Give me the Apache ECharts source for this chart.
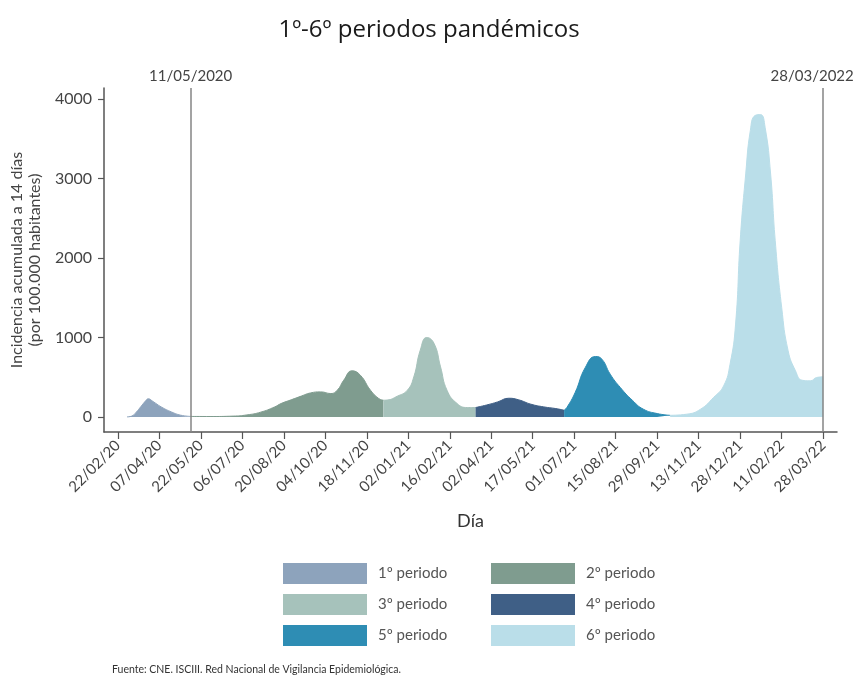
<!DOCTYPE html>
<html>
<head>
<meta charset="utf-8">
<script src="https://cdn.jsdelivr.net/npm/echarts@6/dist/echarts.min.js"></script>
<style>
  html, body { margin: 0; padding: 0; background: #fff; }
  #chart { width: 858px; height: 675px; }
</style>
</head>
<body>
<div id="chart"></div>
<script>
// days counted from 22/02/2020
var tickDays = [0, 45, 90, 135, 180, 225, 270, 315, 360, 405, 450, 495, 540, 585, 630, 675, 720, 765];
var tickLabels = ['22/02/20', '07/04/20', '22/05/20', '06/07/20', '20/08/20', '04/10/20', '18/11/20', '02/01/21', '16/02/21',
  '02/04/21', '17/05/21', '01/07/21', '15/08/21', '29/09/21', '13/11/21', '28/12/21', '11/02/22', '28/03/22'];
var yTicks = [0, 1000, 2000, 3000, 4000];

var markDays = [79, 765];
var markLabels = ['11/05/2020', '28/03/2022'];

var periodNames = ['1º periodo', '2º periodo', '3º periodo', '4º periodo', '5º periodo', '6º periodo'];
var periodColors = ['#8da3bc', '#7f9c8f', '#a6c2bb', '#3f5f86', '#2e8db4', '#badee9'];

var p1Days = [10, 15, 20, 25, 30, 33, 38, 47, 58, 68, 79];
var p1Vals = [0, 10, 60, 130, 200, 228, 195, 126, 63, 22, 6];

var p2Days = [79, 100, 125, 140, 155, 170, 177, 188, 199, 209, 220, 231, 238, 245, 254, 263, 274, 283, 288];
var p2Vals = [6, 5, 10, 25, 60, 125, 168, 215, 262, 302, 315, 294, 336, 462, 580, 525, 336, 231, 210];

var p3Days = [288, 292, 303, 314, 321, 328, 335, 343, 350, 357, 368, 379, 388];
var p3Vals = [210, 212, 260, 336, 504, 840, 1000, 924, 630, 336, 168, 118, 118];

var p4Days = [388, 400, 412, 424, 435, 448, 462, 475, 484];
var p4Vals = [118, 150, 189, 235, 214, 160, 126, 105, 84];

var p5Days = [484, 487, 496, 507, 518, 525, 534, 545, 558, 570, 585, 599];
var p5Vals = [84, 118, 307, 622, 760, 727, 538, 370, 210, 97, 42, 20];

var p6Days = [599, 617, 632, 646, 657, 664, 670, 675, 681, 686, 691, 697, 702, 708, 713, 720, 727, 735, 742, 751, 758, 765];
var p6Vals = [20, 34, 97, 244, 390, 664, 1168, 2218, 3058, 3604, 3793, 3805, 3646, 3058, 2218, 1378, 832, 580, 462, 454, 496, 504];

var periodDays = [p1Days, p2Days, p3Days, p4Days, p5Days, p6Days];
var periodVals = [p1Vals, p2Vals, p3Vals, p4Vals, p5Vals, p6Vals];

var font = 'Lato, "Open Sans", sans-serif';
var chart = echarts.init(document.getElementById('chart'));

var series = periodNames.map(function (name, i) {
  var s = {
    name: name,
    type: 'line',
    smooth: 0.5,
    showSymbol: false,
    silent: true,
    data: periodDays[i].map(function (d, k) { return [d, periodVals[i][k]]; }),
    itemStyle: { color: periodColors[i] },
    lineStyle: { width: 1, color: periodColors[i] },
    areaStyle: { color: periodColors[i], opacity: 1, origin: 0 },
    z: 2
  };
  if (i === 0) {
    s.markLine = {
      silent: true,
      symbol: ['none', 'none'],
      lineStyle: { color: '#858585', width: 1.5, type: 'solid' },
      label: {
        position: 'end',
        distance: 4,
        color: '#444',
        fontSize: 15,
        fontFamily: font
      },
      data: markDays.map(function (d, k) {
        var item = { xAxis: d, label: { formatter: markLabels[k] } };
        if (k === 1) item.label.padding = [0, 22, 0, 0];
        return item;
      }),
      z: 5
    };
  }
  return s;
});

var option = {
  animation: false,
  backgroundColor: '#fff',
  title: [{
    text: '1º-6º periodos pandémicos',
    left: 'center',
    top: 13,
    textStyle: { fontFamily: '"Open Sans", sans-serif', fontSize: 24, fontWeight: 'normal', color: '#1a1a1a' }
  }, {
    text: 'Fuente: CNE. ISCIII. Red Nacional de Vigilancia Epidemiológica.',
    left: 107,
    top: 659,
    textStyle: { fontFamily: font, fontSize: 10.5, fontWeight: 'normal', color: '#333' }
  }],
  legend: [{
    orient: 'vertical',
    left: 278,
    top: 558,
    icon: 'rect',
    itemWidth: 84,
    itemHeight: 21,
    itemGap: 10,
    textStyle: { fontFamily: font, fontSize: 15, color: '#555', padding: [0, 0, 0, 6] },
    data: [periodNames[0], periodNames[2], periodNames[4]]
  }, {
    orient: 'vertical',
    left: 486,
    top: 558,
    icon: 'rect',
    itemWidth: 84,
    itemHeight: 21,
    itemGap: 10,
    textStyle: { fontFamily: font, fontSize: 15, color: '#555', padding: [0, 0, 0, 6] },
    data: [periodNames[1], periodNames[3], periodNames[5]]
  }],
  grid: { left: 103, right: 21, top: 88, bottom: 243 },
  xAxis: {
    type: 'value',
    min: -15,
    max: 780,
    name: 'Día',
    nameLocation: 'middle',
    nameGap: 80,
    nameTextStyle: { fontFamily: font, fontSize: 18, color: '#333' },
    axisLine: { onZero: false, lineStyle: { color: '#555', width: 1.5 } },
    axisTick: { show: true, length: 7, customValues: tickDays, lineStyle: { color: '#555', width: 1.2 } },
    axisLabel: {
      customValues: tickDays,
      rotate: 45,
      margin: 11,
      fontFamily: font,
      fontSize: 15,
      color: '#444',
      formatter: function (v) {
        var idx = tickDays.indexOf(v);
        return idx >= 0 ? tickLabels[idx] : '';
      }
    },
    splitLine: { show: false }
  },
  yAxis: {
    type: 'value',
    min: -190,
    max: 4140,
    name: 'Incidencia acumulada a 14 días\n(por 100.000 habitantes)',
    nameLocation: 'middle',
    nameGap: 54,
    nameTextStyle: { fontFamily: font, fontSize: 16, color: '#444', lineHeight: 18 },
    axisLine: { show: true, onZero: false, lineStyle: { color: '#555', width: 1.5 } },
    axisTick: { show: true, length: 6, customValues: yTicks, lineStyle: { color: '#555', width: 1.2 } },
    axisLabel: {
      customValues: yTicks,
      margin: 12,
      fontFamily: font,
      fontSize: 16,
      color: '#444',
      formatter: function (v) { return String(v); }
    },
    splitLine: { show: false }
  },
  series: series
};

chart.setOption(option);
</script>
</body>
</html>
